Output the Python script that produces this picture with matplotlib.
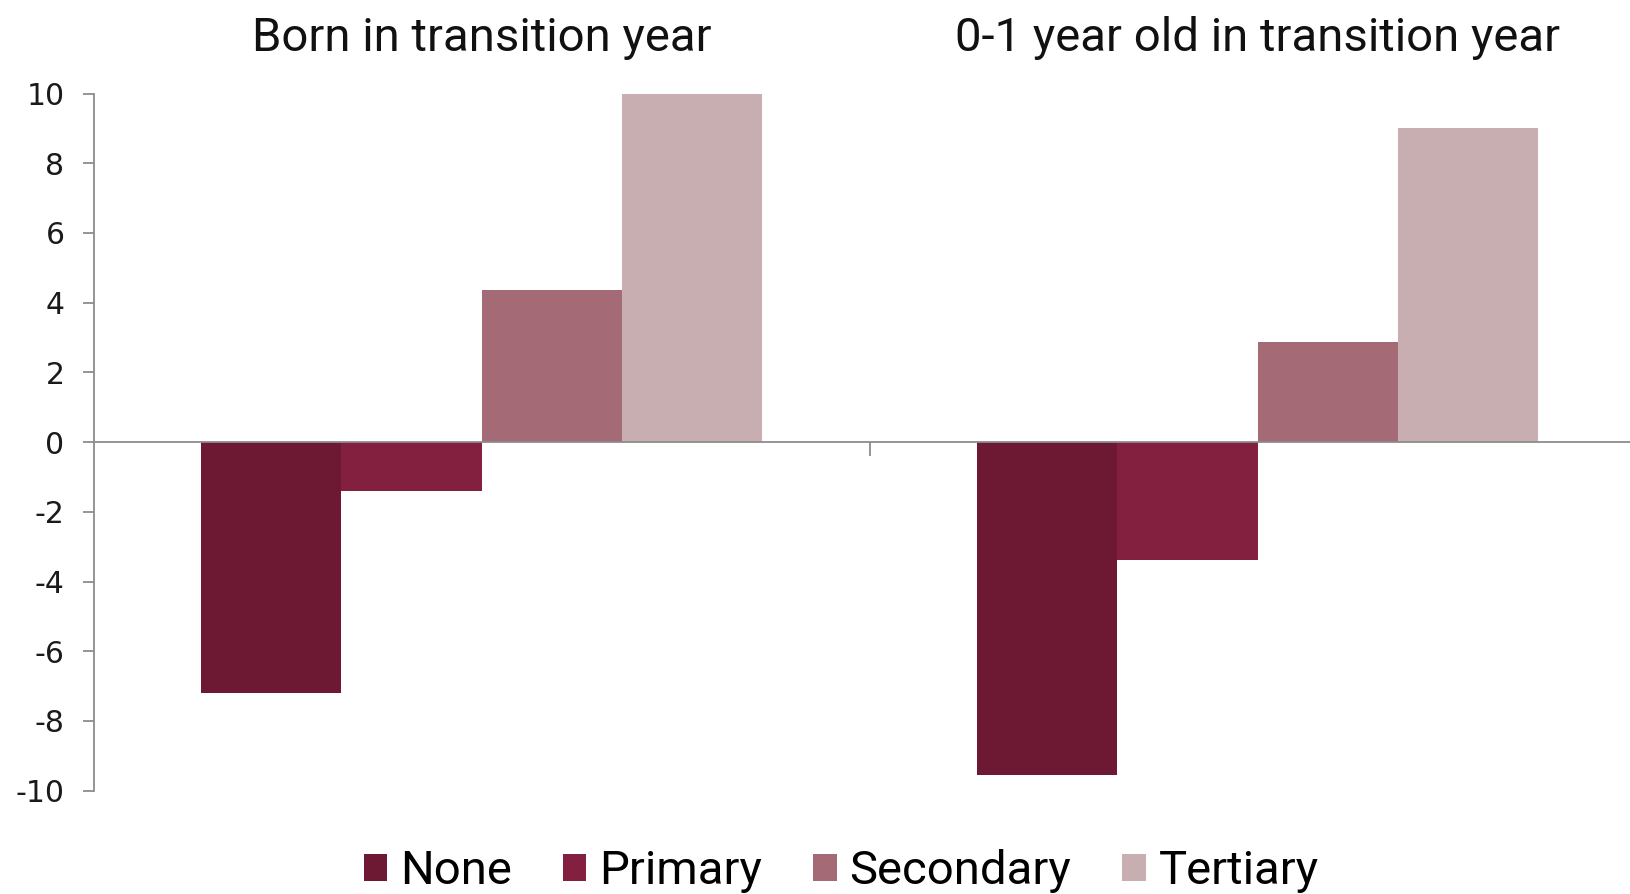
import matplotlib
matplotlib.use("Agg")
import matplotlib.pyplot as plt
import numpy as np

groups = ["Born in transition year", "0-1 year old in transition year"]
series = ["None", "Primary", "Secondary", "Tertiary"]
none_vals = [-7.19, -9.55]
primary_vals = [-1.40, -3.37]
secondary_vals = [4.36, 2.87]
tertiary_vals = [10.0, 9.01]
colors = ["#6D1934", "#84203F", "#A46B77", "#C8ADB1"]
yticks = [-10, -8, -6, -4, -2, 0, 2, 4, 6, 8, 10]

values = [none_vals, primary_vals, secondary_vals, tertiary_vals]

textfont = ["Roboto", "DejaVu Sans"]
tickfont = ["DejaVu Sans"]

W, H = 1631, 894
fig = plt.figure(figsize=(W / 100, H / 100), dpi=100)
left, right = 93.6, 1645.6
top, bottom = 93.6, 790.6
ax = fig.add_axes([left / W, 1 - bottom / H, (right - left) / W, (bottom - top) / H])

x = np.arange(len(groups))
bw = 135 / 746
offsets = (np.arange(4) - 1.5) * bw
for i, (name, vals) in enumerate(zip(series, values)):
    ax.bar(x + offsets[i], vals, width=bw, color=colors[i], label=name, zorder=2)

ax.set_xlim(-0.5, 1.5)
ax.set_ylim(-10, 10)
ax.set_yticks(yticks)
ax.set_yticklabels([str(t) for t in yticks], fontsize=21.5, family=tickfont, color="#1a1a1a")
axcol = "#8C8C8C"
for s in ["top", "right"]:
    ax.spines[s].set_visible(False)
ax.spines["left"].set_color(axcol)
ax.spines["left"].set_linewidth(1.3)
ax.spines["bottom"].set_position(("data", 0))
ax.spines["bottom"].set_color(axcol)
ax.spines["bottom"].set_linewidth(1.3)
ax.spines["bottom"].set_zorder(3)
ax.set_xticks([0.5])
ax.set_xticklabels([""])
ax.tick_params(axis="x", direction="out", length=10, width=1.3, color=axcol)
ax.tick_params(axis="y", direction="out", length=8, width=1.3, color=axcol, pad=13)

for xi, g in zip(x, groups):
    xf = (left + (xi + 0.5) / 2 * (right - left)) / W
    fig.text(xf, 1 - 38 / H, g, ha="center", va="center", fontsize=34,
             family=textfont, color="#111111")

leg = fig.legend(loc="center", bbox_to_anchor=(0.5157, 1 - 871 / H), ncol=4, frameon=False,
                 prop={"family": textfont, "size": 34},
                 handlelength=0.5, handleheight=0.5, handletextpad=0.27, columnspacing=1.08)

fig.savefig("out.png", dpi=100)
